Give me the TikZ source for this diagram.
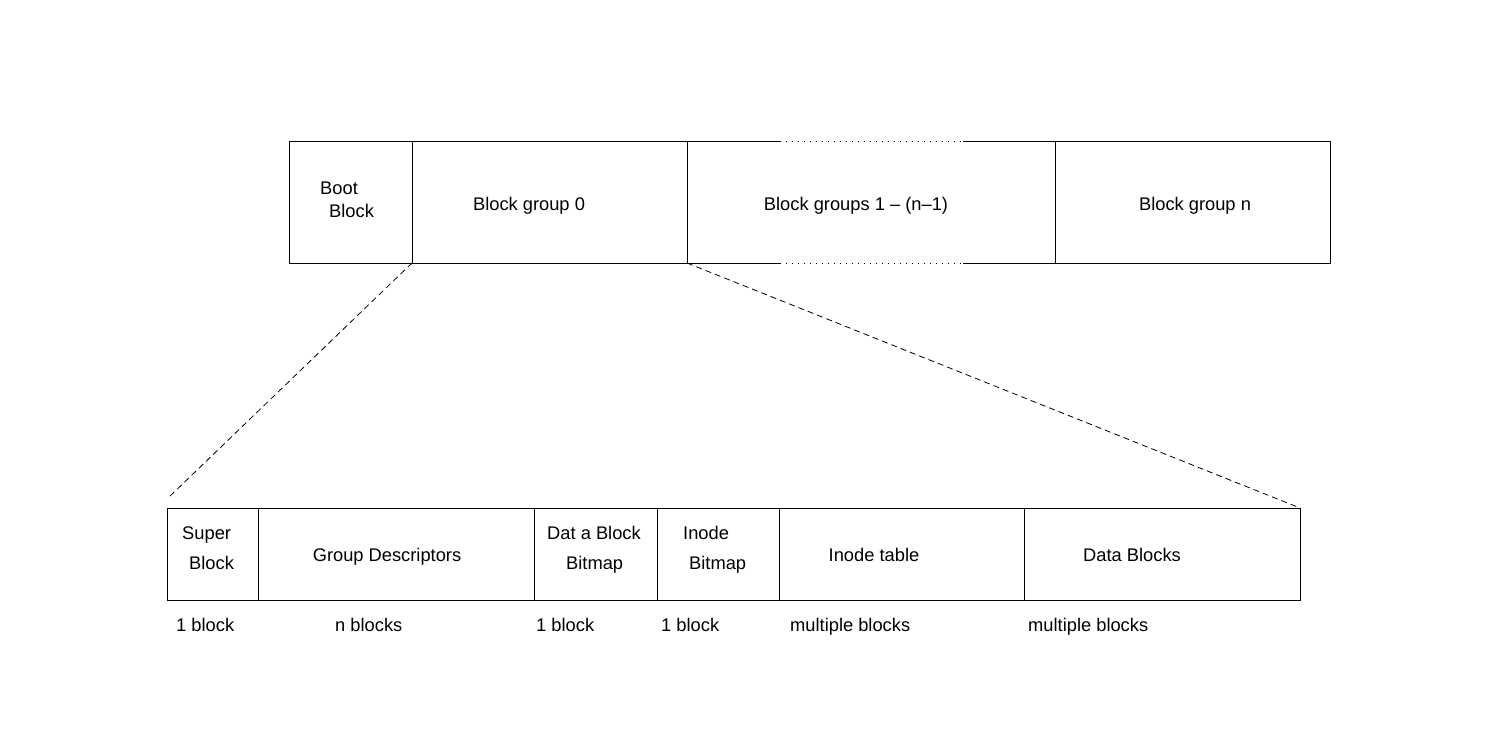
\documentclass[tikz,border=0pt]{standalone}
\usepackage{fontspec}
\setmainfont{Liberation Sans}
\begin{document}
\begin{tikzpicture}[x=1pt,y=-1pt,
  edge/.style={line width=0.9pt},
  cell/.style={draw,edge,inner sep=0pt,outer sep=0pt,minimum height=#1},
  cell/.default=122,
  txt/.style={font=\fontsize{18.3}{22}\selectfont,inner sep=0pt},
  dotline/.style={line width=1pt,dash pattern=on 1.2pt off 4.8pt},
  zoomline/.style={line width=0.8pt,dash pattern=on 6pt off 4pt}]
\useasboundingbox (0,0) rectangle (1485,736);
% top row
\node[cell,minimum width=123pt] (boot) at (350.5,202) {};
\node[cell,minimum width=275pt] (bg0) at (549.5,202) {};
\node[inner sep=0pt,outer sep=0pt,minimum width=368pt,minimum height=122pt] (bgm) at (871,202) {};
\node[cell,minimum width=275pt] (bgn) at (1192.5,202) {};
\coordinate (t1) at (780,141);
\coordinate (t2) at (963,141);
\coordinate (b1) at (780,263);
\coordinate (b2) at (963,263);
\draw[edge] (bgm.north west) -- (t1) (t2) -- (bgm.north east);
\draw[edge] (bgm.south west) -- (b1) (b2) -- (bgm.south east);
\draw[dotline] (t1) -- (t2) (b1) -- (b2);
\node[txt,anchor=base west] (bootA) at (320,194.5) {Boot};
\node[txt,anchor=base west] (bootB) at (329,217.5) {Block};
\node[txt,anchor=base] (bg0t) at (529,210.5) {Block group 0};
\node[txt,anchor=base] (bgmt) at (856,210.5) {Block groups 1 – (n–1)};
\node[txt,anchor=base] (bgnt) at (1195,210.5) {Block group n};
% bottom row
\node[cell=92pt,minimum width=91pt] (sb) at (212.5,554) {};
\node[cell=92pt,minimum width=276pt] (gd) at (396,554) {};
\node[cell=92pt,minimum width=123pt] (dbb) at (595.5,554) {};
\node[cell=92pt,minimum width=122pt] (ib) at (718,554) {};
\node[cell=92pt,minimum width=245pt] (it) at (901.5,554) {};
\node[cell=92pt,minimum width=276pt] (db) at (1162,554) {};
\node[txt,anchor=base west] (sbA) at (182,539.5) {Super};
\node[txt,anchor=base west] (sbB) at (189,569.5) {Block};
\node[txt,anchor=base] (gdt) at (387,561.5) {Group Descriptors};
\node[txt,anchor=base west] (dbbA) at (547,539.5) {Dat a Block};
\node[txt,anchor=base west] (dbbB) at (566,569.5) {Bitmap};
\node[txt,anchor=base west] (ibA) at (683,539.5) {Inode};
\node[txt,anchor=base west] (ibB) at (689,569.5) {Bitmap};
\node[txt,anchor=base] (itt) at (874,561.5) {Inode table};
\node[txt,anchor=base] (dbt) at (1132,561.5) {Data Blocks};
% size labels
\node[txt,anchor=base west] (l1) at (176,631.5) {1 block};
\node[txt,anchor=base west] (l2) at (335,631.5) {n blocks};
\node[txt,anchor=base west] (l3) at (536,631.5) {1 block};
\node[txt,anchor=base west] (l4) at (661,631.5) {1 block};
\node[txt,anchor=base west] (l5) at (790,631.5) {multiple blocks};
\node[txt,anchor=base west] (l6) at (1028,631.5) {multiple blocks};
% zoom lines
\coordinate (zl) at (168,498);
\draw[zoomline] (bg0.south west) -- (zl);
\draw[zoomline] (bgm.south west) -- (db.north east);
\end{tikzpicture}
\end{document}
